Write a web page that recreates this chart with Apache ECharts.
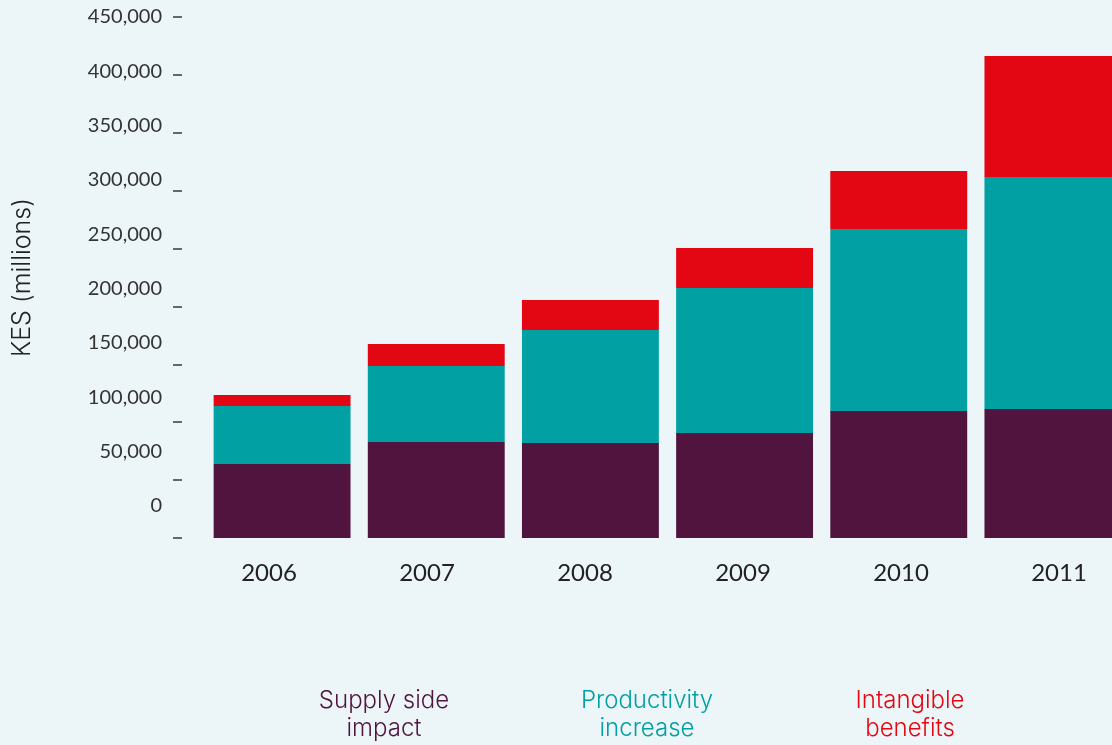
<!DOCTYPE html>
<html>
<head>
<meta charset="utf-8">
<title>KES (millions)</title>
<script src="https://cdn.jsdelivr.net/npm/echarts@6/dist/echarts.min.js"></script>
<style>
  html, body { margin: 0; padding: 0; background: #ECF5F7; }
  #chart { width: 1112px; height: 745px; }
</style>
</head>
<body>
<div id="chart"></div>
<script>
// Yearly value, KES millions, stacked by source
const years = ['2006', '2007', '2008', '2009', '2010', '2011'];
const supplySide = [63900, 82900, 82000, 90700, 109700, 111400];
const productivity = [50100, 65700, 97600, 125200, 157200, 200400];
const intangible = [9500, 19000, 25900, 34600, 50100, 104500];
const tickValues = [0, 50000, 100000, 150000, 200000, 250000, 300000, 350000, 400000, 450000];

const seriesNames = ['Supply side impact', 'Productivity increase', 'Intangible benefits'];
const legendLines = {
  'Supply side impact': ['Supply side', 'impact'],
  'Productivity increase': ['Productivity', 'increase'],
  'Intangible benefits': ['Intangible', 'benefits']
};
const colors = ['#50143F', '#00A0A3', '#E30613'];

const numFont = 'Lato, "Open Sans", sans-serif';
const wordFont = 'Inter, Lato, sans-serif';
const chart = echarts.init(document.getElementById('chart'), null, { renderer: 'canvas' });

function fmt(v) {
  return v.toString().replace(/\B(?=(\d{3})+(?!\d))/g, ',');
}

chart.setOption({
  backgroundColor: '#ECF5F7',
  animation: false,
  grid: [
    { left: 205, width: 925, top: 17, bottom: 207, containLabel: false, outerBoundsMode: 'none' },
    { left: 190, width: 948, top: 17, bottom: 207, containLabel: false, outerBoundsMode: 'none' }
  ],
  legend: {
    data: seriesNames.map((n, i) => ({ name: n, textStyle: { color: colors[i] } })),
    left: 279,
    top: 689,
    padding: 0,
    icon: 'none',
    itemWidth: 0,
    itemHeight: 0,
    itemGap: 58,
    selectedMode: false,
    formatter: name => legendLines[name].map(s => '{t|' + s + '}').join('\n'),
    textStyle: {
      fontFamily: wordFont,
      fontWeight: 300,
      fontSize: 24,
      rich: { t: { width: 200, align: 'center', lineHeight: 28, fontSize: 24, fontWeight: 300, fontFamily: wordFont } }
    }
  },
  xAxis: [
    {
      type: 'category', gridIndex: 0, data: years,
      axisLine: { show: false }, axisTick: { show: false }, axisLabel: { show: false }
    },
    {
      type: 'category', gridIndex: 1, data: years,
      axisLine: { show: false }, axisTick: { show: false },
      axisLabel: { color: '#222', fontSize: 24, margin: 23, fontFamily: numFont }
    }
  ],
  yAxis: [
    {
      // value scale with its tick marks
      type: 'value', gridIndex: 0, position: 'left', offset: 23,
      min: 0, max: 450000, interval: 50000,
      axisLine: { show: false },
      axisTick: { show: true, length: 9, lineStyle: { color: '#3a3a3a', width: 1.5 } },
      axisLabel: { show: false },
      splitLine: { show: false }
    },
    {
      // tick labels and axis title
      type: 'value', gridIndex: 0, position: 'left', offset: 23,
      min: -29448, max: 450000,
      axisLine: { show: false },
      axisTick: { show: false },
      splitLine: { show: false },
      axisLabel: {
        customValues: tickValues,
        formatter: v => fmt(v),
        color: '#333', fontSize: 20, margin: 20, fontFamily: numFont
      },
      name: 'KES (millions)',
      nameLocation: 'middle',
      nameGap: 147,
      nameTextStyle: { color: '#222', fontSize: 25, fontWeight: 300, fontFamily: wordFont }
    },
    {
      type: 'value', gridIndex: 1, show: false, min: 0, max: 450000
    }
  ],
  series: [
    { name: seriesNames[0], type: 'bar', stack: 'total', data: supplySide, barCategoryGap: '11.2%', itemStyle: { color: colors[0] } },
    { name: seriesNames[1], type: 'bar', stack: 'total', data: productivity, barCategoryGap: '11.2%', itemStyle: { color: colors[1] } },
    { name: seriesNames[2], type: 'bar', stack: 'total', data: intangible, barCategoryGap: '11.2%', itemStyle: { color: colors[2] } }
  ]
});
</script>
</body>
</html>
